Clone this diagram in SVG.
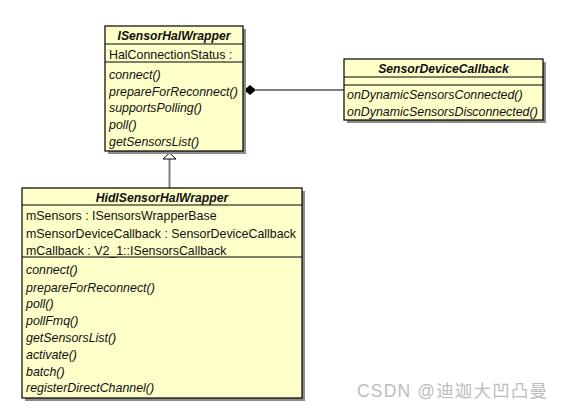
<svg xmlns="http://www.w3.org/2000/svg" width="563" height="410" viewBox="0 0 563 410">
<defs>
<style>
.shadow{fill:#8c8c8c;}
.box{fill:#ffffca;stroke:#000;stroke-width:1.2;}
.div{stroke:#000;stroke-width:1;fill:none;}
.t{font-family:"Liberation Sans",Arial,sans-serif;font-size:12.4px;fill:#111;}
.h{font-weight:bold;font-style:italic;text-anchor:middle;font-size:12.2px;}
.m{font-style:italic;}
.conn{stroke:#808080;stroke-width:2;fill:none;}
</style>
</defs>
<rect width="563" height="410" fill="#fff"/>
<g id="connectors">
<line class="conn" x1="256" y1="90" x2="344" y2="90"/>
<polygon points="244,90 250,85 256,90 250,95" fill="#000"/>
<line class="conn" x1="169.5" y1="159" x2="169.5" y2="188"/>
<polygon points="169.5,153 176,159 163,159" fill="#fff" stroke="#000" stroke-width="1"/>
</g>
<g id="ISensorHalWrapper">
<rect class="shadow" x="108" y="29" width="138" height="125"/>
<rect class="box" x="105" y="26" width="138" height="125"/>
<line class="div" x1="105" y1="44" x2="243" y2="44"/>
<line class="div" x1="105" y1="62" x2="243" y2="62"/>
<text class="t h" x="174" y="39.5">ISensorHalWrapper</text>
<text class="t" x="109" y="58.5">HalConnectionStatus :</text>
<text class="t m" x="109" y="78.5">connect()</text>
<text class="t m" x="109" y="95.5">prepareForReconnect()</text>
<text class="t m" x="109" y="111.5">supportsPolling()</text>
<text class="t m" x="109" y="128.5">poll()</text>
<text class="t m" x="109" y="145.5">getSensorsList()</text>
</g>
<g id="SensorDeviceCallback">
<rect class="shadow" x="347" y="62" width="199" height="61"/>
<rect class="box" x="344" y="59" width="199" height="61"/>
<line class="div" x1="344" y1="77" x2="543" y2="77"/>
<line class="div" x1="344" y1="85" x2="543" y2="85"/>
<text class="t h" x="443.5" y="72.5">SensorDeviceCallback</text>
<text class="t m" x="347" y="98.5">onDynamicSensorsConnected()</text>
<text class="t m" x="347" y="115.5">onDynamicSensorsDisconnected()</text>
</g>
<g id="HidlSensorHalWrapper">
<rect class="shadow" x="25" y="191" width="280" height="210"/>
<rect class="box" x="22" y="188" width="280" height="210"/>
<line class="div" x1="22" y1="205" x2="302" y2="205"/>
<line class="div" x1="22" y1="257" x2="302" y2="257"/>
<text class="t h" x="162" y="201.5">HidlSensorHalWrapper</text>
<text class="t" x="26" y="219.5">mSensors : ISensorsWrapperBase</text>
<text class="t" x="26" y="237.5">mSensorDeviceCallback : SensorDeviceCallback</text>
<text class="t" x="26" y="254.5">mCallback : V2_1::ISensorsCallback</text>
<text class="t m" x="26" y="273.5">connect()</text>
<text class="t m" x="26" y="291.5">prepareForReconnect()</text>
<text class="t m" x="26" y="307.5">poll()</text>
<text class="t m" x="26" y="324.5">pollFmq()</text>
<text class="t m" x="26" y="341.5">getSensorsList()</text>
<text class="t m" x="26" y="358.5">activate()</text>
<text class="t m" x="26" y="375.5">batch()</text>
<text class="t m" x="26" y="391.5">registerDirectChannel()</text>
</g>
<text x="357" y="397" font-family="'Liberation Sans','Noto Sans CJK SC',sans-serif" font-size="17.5" fill="#bdbdbd" textLength="190" lengthAdjust="spacing">CSDN @迪迦大凹凸曼</text>
</svg>
